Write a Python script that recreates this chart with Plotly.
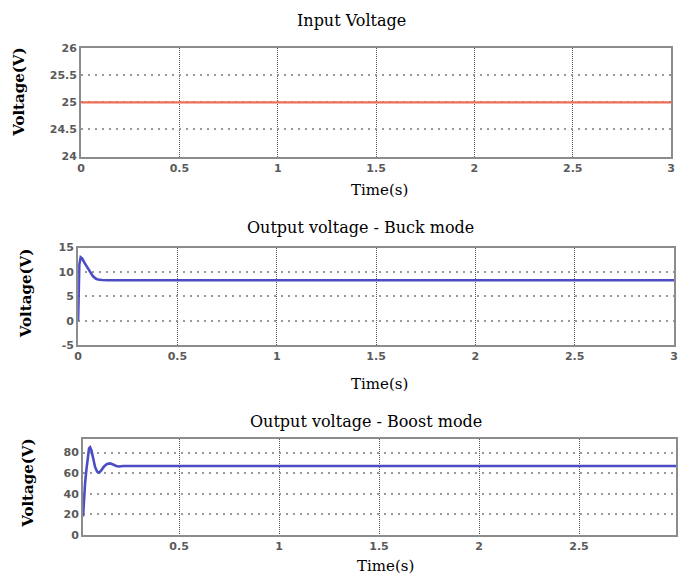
import plotly.graph_objects as go

W, H = 680, 585

# ---- data ----
input_t = [0.0, 3.0]
input_v = [25.0, 25.0]

buck_t = [0.0, 0.002, 0.006, 0.013, 0.02, 0.03, 0.04, 0.055, 0.075, 0.09, 0.1, 0.12, 0.15, 3.0]
buck_v = [0.0, 6.0, 11.5, 13.0, 12.8, 12.0, 11.3, 10.2, 9.1, 8.6, 8.45, 8.35, 8.3, 8.3]

boost_t = [0.02, 0.024, 0.03, 0.037, 0.045, 0.05, 0.055, 0.062, 0.07, 0.08, 0.09, 0.1, 0.11, 0.125, 0.14, 0.155, 0.17, 0.185, 0.2, 0.22, 2.985]
boost_v = [18.0, 35.0, 50.0, 64.0, 78.0, 84.0, 85.0, 82.0, 75.0, 66.0, 61.5, 60.5, 62.5, 66.5, 69.0, 69.5, 68.5, 67.0, 66.5, 67.0, 67.0]

x_ticks = [0, 0.5, 1, 1.5, 2, 2.5, 3]
x_tick_text = ["0", "0.5", "1", "1.5", "2", "2.5", "3"]
y1_ticks = [24, 24.5, 25, 25.5, 26]
y2_ticks = [-5, 0, 5, 10, 15]
y3_ticks = [0, 20, 40, 60, 80]

titles = ["Input Voltage", "Output voltage - Buck mode", "Output voltage - Boost mode"]


def px_x(p):
    return p / W


def px_y(p):
    return 1 - p / H


fig = go.Figure()
fig.add_trace(go.Scatter(x=input_t, y=input_v, mode="lines",
                         line=dict(color="#ec6f55", width=2.2), xaxis="x", yaxis="y"))
fig.add_trace(go.Scatter(x=buck_t, y=buck_v, mode="lines",
                         line=dict(color="#4c4cc4", width=2.6), xaxis="x2", yaxis="y2"))
fig.add_trace(go.Scatter(x=boost_t, y=boost_v, mode="lines",
                         line=dict(color="#4c4cc4", width=2.6), xaxis="x3", yaxis="y3"))

tickfont = dict(family="DejaVu Sans", size=11, color="#5a5a5a", weight="bold")

common_x = dict(showline=True, mirror=True, linecolor="#8c8c8c", linewidth=2,
                showgrid=True, gridcolor="#555555", griddash="1px,1px", gridwidth=1.3,
                zeroline=False, ticks="", tickfont=tickfont,
                tickvals=x_ticks, ticktext=x_tick_text)
common_y = dict(showline=True, mirror=True, linecolor="#8c8c8c", linewidth=2,
                showgrid=True, gridcolor="#999999", griddash="2px,5px", gridwidth=2,
                zeroline=False, ticks="", tickfont=tickfont)

fig.update_layout(
    width=W, height=H, margin=dict(l=0, r=0, t=0, b=0),
    paper_bgcolor="white", plot_bgcolor="white", showlegend=False,
    xaxis=dict(common_x, domain=[px_x(78), px_x(675)], range=[0, 3], anchor="y"),
    yaxis=dict(common_y, domain=[px_y(154), px_y(43)], range=[24, 26], tickvals=y1_ticks,
               ticktext=["24", "24.5", "25", "25.5", "26"], anchor="x"),
    xaxis2=dict(common_x, domain=[px_x(75), px_x(678)], range=[0, 3], anchor="y2"),
    yaxis2=dict(common_y, domain=[px_y(347), px_y(247)], range=[-5, 15], tickvals=y2_ticks,
                ticktext=["-5", "0", "5", "10", "15"], anchor="x2"),
    xaxis3=dict(common_x, domain=[px_x(80), 1.0], range=[0.02, 2.985], anchor="y3"),
    yaxis3=dict(common_y, domain=[px_y(541), px_y(443)], range=[0, 93], tickvals=y3_ticks,
                ticktext=["0", "20", "40", "60", "80"], anchor="x3"),
)

serif = dict(family="DejaVu Serif", size=16, color="#000000")
ann = []
title_pos = [(352, 15), (361, 227), (366, 425)]
xl_pos = [(380, 188), (380, 387), (386, 573)]
yl_pos = [(15, 88), (23, 294), (24, 488)]
for t, (x, y) in zip(titles, title_pos):
    ann.append(dict(text=t, x=px_x(x), y=px_y(y), xref="paper", yref="paper",
                    showarrow=False, font=serif, xanchor="center", yanchor="middle"))
for (x, y) in xl_pos:
    ann.append(dict(text="Time(s)", x=px_x(x), y=px_y(y), xref="paper", yref="paper",
                    showarrow=False, font=dict(serif, size=15), xanchor="center", yanchor="middle"))
for (x, y) in yl_pos:
    ann.append(dict(text="Voltage(V)", x=px_x(x), y=px_y(y), xref="paper", yref="paper",
                    showarrow=False, font=dict(serif, size=15, weight="bold"), textangle=-90,
                    xanchor="center", yanchor="middle"))
fig.update_layout(annotations=ann)

fig.write_html("out.html")
